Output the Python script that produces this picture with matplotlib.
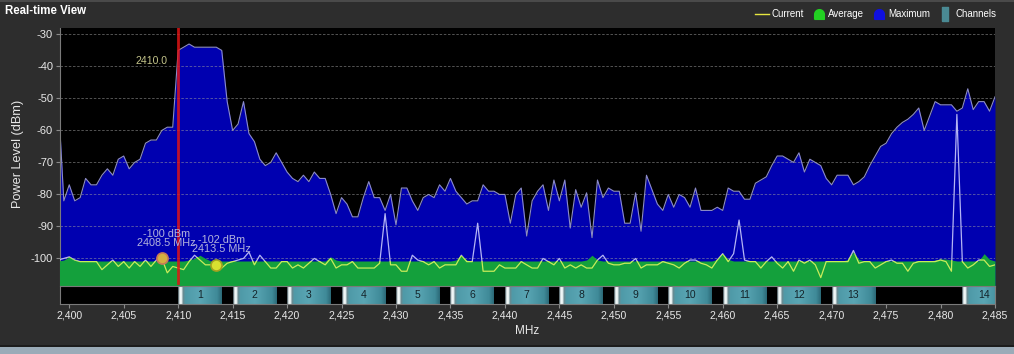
import numpy as np
import matplotlib
matplotlib.use("Agg")
import matplotlib.pyplot as plt
from matplotlib.colors import LinearSegmentedColormap
from matplotlib.lines import Line2D
from matplotlib.patches import Rectangle
from matplotlib.ticker import FuncFormatter

plt.rcParams['font.family'] = ['Liberation Sans', 'DejaVu Sans']
plt.rcParams['axes.unicode_minus'] = False

# sweep bins: 2399.0 .. 2485.0 MHz every 0.5 MHz (10 bins per row below)
freq = np.arange(2399.0, 2485.01, 0.5)

max_dbm = [
    -51, -82, -77, -82, -81, -75, -77, -77, -74, -72,
    -74, -69, -68, -72, -70, -69, -64, -63, -63, -60,
    -59, -59, -35, -34, -33, -34, -34, -34, -34, -34,
    -35, -51, -60, -58, -51, -61, -63.5, -69, -71, -70,
    -67, -70, -73, -75, -76, -74, -76, -73, -75, -75,
    -80, -86, -81, -83, -87, -87, -81, -76, -81, -81,
    -85, -80, -89.5, -78, -78, -82, -85, -81, -80, -81,
    -77, -79, -75, -79, -81, -83, -82, -82, -77, -79,
    -79, -80, -80, -89, -80, -78, -93, -82, -79, -77,
    -85, -75.5, -82, -75.5, -90.5, -78.5, -84, -79.5, -93.5, -75.5,
    -81, -78, -79, -79, -89, -89, -79.5, -91.5, -74, -78.5,
    -83, -85, -80, -84, -80, -81, -84, -78, -85, -85,
    -85, -84, -85, -78, -79, -79, -81.5, -81.5, -76.5, -75.5,
    -74.5, -71, -68, -68, -69, -70, -67, -73, -69, -70,
    -71, -75, -77, -74, -74, -74, -77, -76, -74.5, -71,
    -68, -65, -64, -61, -59, -57.5, -56.5, -55, -53, -60,
    -55.5, -51, -52, -52, -52, -54, -53, -47, -53.5, -51,
    -51, -54, -49.5,
]

cur_dbm = [
    -100.5, -100, -99.5, -100.5, -101, -101, -101, -101, -103.5, -102,
    -100.5, -102.5, -101, -103, -101, -102.5, -100.5, -102.5, -100.5, -100,
    -104.5, -102.5, -103, -103.5, -101, -99, -100.5, -102, -102, -102,
    -103, -101.5, -101, -100.5, -100, -98, -102, -99, -101, -103,
    -103, -101, -101, -103, -102, -103, -101.5, -100, -101, -102,
    -100, -103, -102, -102, -101, -103, -103, -103, -103, -101.5,
    -86, -102, -102, -104, -104, -99, -100.5, -101, -102, -101,
    -103, -102, -102, -102, -99, -101, -101, -89, -104, -104,
    -104, -102, -103, -103, -103, -101, -102, -103, -103, -100,
    -101, -102, -100, -103, -102, -103, -102, -103, -103, -100.5,
    -99, -101.5, -102, -102, -101.5, -101.5, -100, -103, -102, -102,
    -102, -101, -101.5, -102, -103, -101.5, -100.5, -100.5, -101.5, -102,
    -103, -100.5, -98.5, -101, -98.5, -88, -100.5, -101, -101, -103,
    -101, -99.5, -101.5, -103, -101, -104, -100.5, -101.5, -100.5, -102,
    -106, -101, -101, -101, -101, -101, -97.5, -101.5, -101, -101,
    -103, -102, -101, -100.5, -101.5, -101.5, -104, -101.5, -101, -101,
    -101, -101, -100.5, -101, -104, -55, -101, -103, -102, -100.5,
    -100.5, -102.5, -102,
]

avg_dbm = [
    -100.8, -100.5, -99.5, -100.5, -100.8, -100.8, -100.8, -100.8, -100.8, -100.8,
    -100.8, -100.8, -100.8, -100.8, -100.8, -100.8, -100.8, -100.8, -100.8, -100.8,
    -100.8, -100.8, -100.8, -100.8, -100.5, -100, -99, -100, -100.8, -100.8,
    -100.8, -100.8, -100.8, -100.8, -100.8, -100.8, -100.8, -100.8, -100.8, -100.8,
    -100.8, -100.8, -100.8, -100.8, -100.8, -100.8, -100.8, -100.8, -100.8, -100.8,
    -99.5, -100.5, -100.8, -100.8, -100.8, -100.8, -100.8, -100.8, -100.8, -100.8,
    -100.8, -100.8, -100.8, -100.8, -100.8, -100.8, -100.8, -100.8, -100.8, -100.8,
    -100.8, -100.8, -100.8, -100.5, -99, -100.5, -100.8, -100.8, -100.8, -100.8,
    -100.8, -100.8, -100.8, -100.8, -100.8, -100.8, -100.8, -100.8, -100.8, -100.8,
    -100.8, -100.8, -100.8, -100.8, -100.8, -100.8, -100.8, -100.5, -99, -100.5,
    -100.8, -100.8, -100.8, -100.8, -100.8, -100.8, -100.8, -100.8, -100.8, -100.8,
    -100.8, -100.8, -100.8, -100.8, -100.8, -100.8, -100.8, -100.8, -100.8, -100.8,
    -100.8, -100.3, -98.5, -100.3, -100.8, -100.8, -100.8, -100.8, -100.8, -100.8,
    -100.8, -100.8, -100.8, -100.8, -100.8, -100.8, -100.8, -100.8, -100.8, -100.8,
    -100.8, -100.8, -100.8, -100.8, -100.8, -100.3, -98, -100.3, -100.8, -100.8,
    -100.8, -100.8, -100.8, -100.8, -100.8, -100.8, -100.8, -100.8, -100.8, -100.8,
    -100.8, -100.5, -100.2, -100.2, -100.5, -100.8, -100.8, -100.8, -100.8, -100.8,
    -98.5, -100.3, -100.8,
]

marker_freq = [2408.5, 2413.5]
marker_dbm = [-100, -102]
cursor_freq = 2410.0

channels = [1, 2, 3, 4, 5, 6, 7, 8, 9, 10, 11, 12, 13, 14]
chan_center = [2412, 2417, 2422, 2427, 2432, 2437, 2442, 2447, 2452, 2457,
               2462, 2467, 2472, 2484]

y_ticks = [-30, -40, -50, -60, -70, -80, -90, -100]
x_ticks = list(range(2400, 2486, 5))
legend_labels = ['Current', 'Average', 'Maximum', 'Channels']

W, H = 1014, 354
BG = '#2d2d2d'


def px_box(l, t, r, b):
    # pixel box (left, top, right, bottom) -> figure rect
    return [l / W, 1 - b / H, (r - l) / W, (b - t) / H]


fig = plt.figure(figsize=(W / 100, H / 100), dpi=100, facecolor=BG)

ax = fig.add_axes(px_box(60, 28, 995, 285))
ax.set_facecolor('black')
floor = -120

# maximum (blue), current seen through it, average (green) with current on top
ax.fill_between(freq, floor, max_dbm, color='#0000b0', lw=0, zorder=1)
ax.plot(freq, max_dbm, color='#8c8cc8', lw=0.8, zorder=2)
ax.plot(freq, cur_dbm, color='#b4b4f4', lw=0.9, zorder=3)
for v in y_ticks:
    ax.axhline(v, color='#a0a0a0', lw=0.6, ls=(0, (3, 2)), alpha=0.6, zorder=2.5)
avg_fill = ax.fill_between(freq, floor, avg_dbm, color='#14a03c', lw=0, zorder=4)
cur_line, = ax.plot(freq, cur_dbm, color='#c8ec5a', lw=0.9, zorder=5)
cur_line.set_clip_path(avg_fill.get_paths()[0], avg_fill.get_transform())

# cursor
ax.axvline(cursor_freq, color='#e01515', lw=2, alpha=0.85, zorder=7)
ax.annotate(f'{cursor_freq:.1f}', xy=(cursor_freq, 1), xycoords=('data', 'axes fraction'),
            xytext=(-8, -24), textcoords='offset points', ha='right', va='center',
            color='#c4c48a', fontsize=7.6, zorder=8)

# peak markers
m_face = ['#d4b040', '#d8e030']
m_edge = ['#c87858', '#a0a020']
for f, d, fc, ec in zip(marker_freq, marker_dbm, m_face, m_edge):
    ax.plot(f, d, 'o', ms=8, mfc=fc, mec=ec, mew=1.2, zorder=6)
    ax.annotate(f'{d} dBm\n{f:.1f} MHz', xy=(f, d), xytext=(3.5, 7.5), textcoords='offset points',
                ha='center', va='bottom', fontsize=7.8, linespacing=0.9,
                color='#b4b4dc', zorder=8)

ax.set_xlim(2399.15, 2485)
ax.set_ylim(-108.3, -28)
ax.set_yticks(y_ticks)
ax.tick_params(axis='x', bottom=False, labelbottom=False)
ax.tick_params(axis='y', colors='#8a8a8a', labelcolor='#e8e8e8', length=3, pad=2,
               labelsize=8)
for s in ['top', 'right', 'bottom']:
    ax.spines[s].set_visible(False)
ax.spines['left'].set_color('#7a7a7a')

# channel strip
chan_cmap = LinearSegmentedColormap.from_list('chan', [
    (0.0, '#4a5a60'), (0.03, '#e8f0f0'), (0.07, '#f8ffff'), (0.11, '#6a8a90'),
    (0.16, '#4f9aa8'), (0.5, '#5aa6b4'), (0.9, '#3f8a98'), (1.0, '#2c6a78')])
grad = np.linspace(0, 1, 64).reshape(1, -1)

ax2 = fig.add_axes(px_box(60, 286, 995, 304))
ax2.set_facecolor('black')
for ch, c in zip(channels, chan_center):
    ax2.imshow(grad, cmap=chan_cmap, extent=(c - 2, c + 2, 0, 1), aspect='auto',
               interpolation='bilinear', zorder=2)
    ax2.text(c, 0.5, str(ch), ha='center', va='center', fontsize=7.5, color='#14242a',
             zorder=3, clip_on=True)
ax2.set_xlim(ax.get_xlim())
ax2.set_ylim(0, 1)
ax2.set_yticks([])
ax2.set_xticks(x_ticks)
ax2.xaxis.set_major_formatter(FuncFormatter(lambda v, _: f'{int(v):,}'))
ax2.tick_params(axis='x', colors='#8a8a8a', labelcolor='#e8e8e8', length=3, pad=2,
                labelsize=7.6)
for s in ax2.spines.values():
    s.set_color('#7a7a7a')
ax2.set_xlabel('MHz', color='#e8e8e8', fontsize=8.5, labelpad=3)

# texts
fig.text(5 / W, 1 - 11 / H, 'Real-time View', fontweight='bold', color='white',
         fontsize=8.3, va='center', ha='left')
fig.text(18 / W, 1 - 154 / H, 'Power Level (dBm)', rotation=90, color='#e8e8e8',
         fontsize=9.2, va='center', ha='center')

# legend
t = np.linspace(np.pi, 0, 13)
bell = [(-1, -1)] + list(zip(np.cos(t), np.sin(t))) + [(1, -1), (-1, -1)]
tall = [(-0.5, -1), (0.5, -1), (0.5, 1), (-0.5, 1), (-0.5, -1)]
handles = [
    Line2D([], [], color='#e6e640', lw=1),
    Line2D([], [], ls='', marker=bell, ms=7, mfc='#22d022', mec='#22d022'),
    Line2D([], [], ls='', marker=bell, ms=7, mfc='#1010e0', mec='#1010e0'),
    Line2D([], [], ls='', marker=tall, ms=10, mfc='#4a8a94', mec='#4a8a94'),
]
fig.legend(handles, legend_labels, loc='center right', bbox_to_anchor=(996 / W, 1 - 14 / H),
           ncol=4, frameon=False, fontsize=7, labelcolor='white', handlelength=1.4,
           handletextpad=0.3, columnspacing=0.8, borderaxespad=0, borderpad=0)

# window chrome: top line and bottom bar
fig.add_artist(Rectangle((0, 1 - 2 / H), 1, 2 / H, transform=fig.transFigure,
                         color='#4a4a4a', lw=0))
fig.add_artist(Rectangle((0, 0), 1, 7 / H, transform=fig.transFigure,
                         color='#9aabb8', lw=0))
fig.add_artist(Rectangle((0, 7 / H), 1, 2 / H, transform=fig.transFigure,
                         color='#1c1c1c', lw=0))

fig.savefig('out.png', dpi=100, facecolor=BG)
